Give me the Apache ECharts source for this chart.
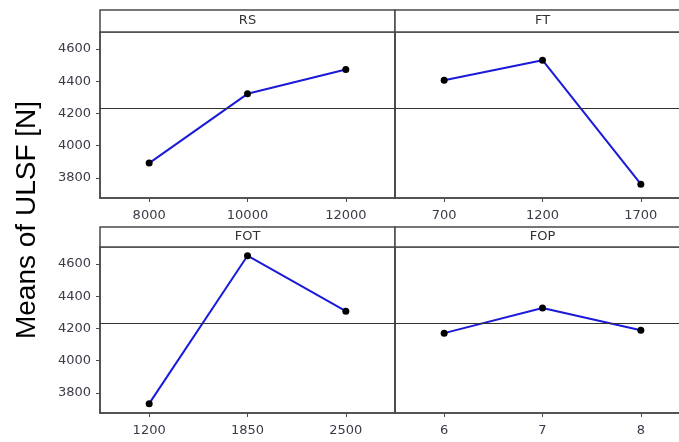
<!DOCTYPE html>
<html>
<head>
<meta charset="utf-8">
<script src="https://cdn.jsdelivr.net/npm/echarts@6/dist/echarts.min.js"></script>
<style>
html,body{margin:0;padding:0;background:#fff;}
#chart{width:679px;height:442px;}
</style>
</head>
<body>
<div id="chart"></div>
<script>
// ---- data ----
const panelTitles = ['RS', 'FT', 'FOT', 'FOP'];
const rsLevels = ['8000', '10000', '12000'];
const rsMeans = [3892, 4322, 4473];
const ftLevels = ['700', '1200', '1700'];
const ftMeans = [4406, 4531, 3761];
const fotLevels = ['1200', '1850', '2500'];
const fotMeans = [3733, 4652, 4307];
const fopLevels = ['6', '7', '8'];
const fopMeans = [4171, 4327, 4189];
const grandMean = 4230;
const yTickValues = [3800, 4000, 4200, 4400, 4600];
const yAxisTitle = 'Means of ULSF [N]';

// ---- layout ----
const levels = [rsLevels, ftLevels, fotLevels, fopLevels];
const means = [rsMeans, ftMeans, fotMeans, fopMeans];
const panelLeft = [100, 395, 100, 395];
const panelTop = [32, 32, 247, 247];
const stripTop = [10, 10, 227, 227];
const panelW = 295, panelH = 166;
const yMin = 3675, yMax = 4706;
const frameColor = '#4a4a4a';
const labelFont = 'DejaVu Sans';

const grids = [], xAxes = [], yAxes = [], series = [], graphics = [];
for (let i = 0; i < 4; i++) {
  const leftCol = (i % 2 === 0);
  grids.push({
    left: panelLeft[i], top: panelTop[i], width: panelW, height: panelH,
    outerBoundsMode: 'none', containLabel: false,
    show: true, borderColor: frameColor, borderWidth: 1.5, backgroundColor: 'transparent'
  });
  xAxes.push({
    type: 'category', gridIndex: i, data: levels[i], boundaryGap: true,
    axisLine: { show: true, lineStyle: { color: frameColor, width: 1.5 } },
    axisTick: { show: true, alignWithLabel: true, length: 4, lineStyle: { color: frameColor } },
    axisLabel: { color: '#3c3a48', fontFamily: labelFont, fontSize: 13, margin: 11 },
    splitLine: { show: false }
  });
  yAxes.push({
    type: 'value', gridIndex: i, min: yMin, max: yMax,
    axisLine: { show: true, lineStyle: { color: frameColor, width: 1.5 } },
    axisTick: { show: leftCol, length: 4, customValues: yTickValues, lineStyle: { color: frameColor } },
    axisLabel: { show: leftCol, customValues: yTickValues, formatter: v => String(v),
      color: '#3c3a48', fontFamily: labelFont, fontSize: 13, margin: 9 },
    splitLine: { show: false }
  });
  series.push({
    type: 'line', xAxisIndex: i, yAxisIndex: i, data: means[i],
    lineStyle: { color: '#1a1ad8', width: 2 },
    itemStyle: { color: '#000' },
    symbol: 'circle', symbolSize: 7, showSymbol: true,
    markLine: {
      silent: true, symbol: 'none', label: { show: false },
      lineStyle: { color: '#333', width: 1.2, type: 'solid' },
      data: [{ yAxis: grandMean }]
    },
    z: 3
  });
  graphics.push({
    type: 'rect',
    shape: { x: panelLeft[i], y: stripTop[i], width: panelW, height: panelTop[i] - stripTop[i] },
    style: { fill: '#fff', stroke: frameColor, lineWidth: 1.5 }
  });
  graphics.push({
    type: 'text',
    x: panelLeft[i] + panelW / 2, y: (stripTop[i] + panelTop[i]) / 2,
    style: { text: panelTitles[i], fill: '#333', font: '13px "DejaVu Sans"', textAlign: 'center', textVerticalAlign: 'middle' }
  });
}
graphics.push({
  type: 'text', x: 27, y: 220, rotation: Math.PI / 2,
  style: { text: yAxisTitle, fill: '#000', font: '28px "Liberation Sans"', textAlign: 'center', textVerticalAlign: 'middle' }
});

const chart = echarts.init(document.getElementById('chart'), null, { renderer: 'canvas' });
chart.setOption({
  animation: false,
  backgroundColor: '#fff',
  grid: grids, xAxis: xAxes, yAxis: yAxes, series: series,
  graphic: graphics
});
</script>
</body>
</html>
